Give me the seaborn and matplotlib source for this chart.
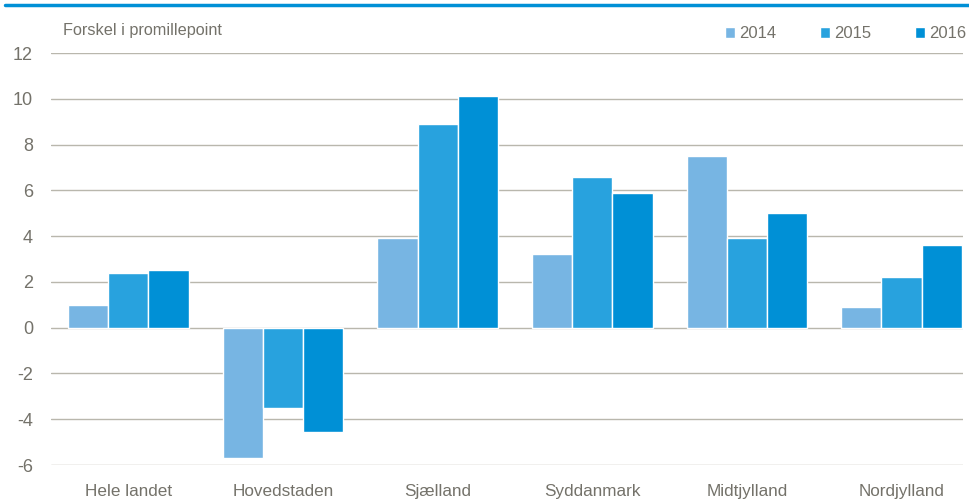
import matplotlib
matplotlib.use("Agg")
import matplotlib.pyplot as plt
from matplotlib.lines import Line2D
import seaborn as sns
import pandas as pd

regions = ["Hele landet", "Hovedstaden", "Sjælland", "Syddanmark", "Midtjylland", "Nordjylland"]
years = ["2014", "2015", "2016"]
v2014 = [1.0, -5.7, 3.9, 3.2, 7.5, 0.9]
v2015 = [2.4, -3.5, 8.9, 6.6, 3.9, 2.2]
v2016 = [2.5, -4.55, 10.1, 5.9, 5.0, 3.6]
yticks = [-6, -4, -2, 0, 2, 4, 6, 8, 10, 12]

colors = ["#77b5e3", "#28a2de", "#0090d6"]
text_col = "#74726a"
grid_col = "#b9b7ad"

df = pd.DataFrame({
    "region": regions * 3,
    "year": [y for y in years for _ in regions],
    "value": v2014 + v2015 + v2016,
})

sns.set_style("white")
plt.rcParams["font.family"] = ["Liberation Sans", "DejaVu Sans"]

fig = plt.figure(figsize=(9.69, 5.01), dpi=100)
ax = fig.add_axes([51 / 969, 36 / 501, (963 - 51) / 969, (465 - 53) / 501])

sns.barplot(data=df, x="region", y="value", hue="year", palette=colors,
            width=0.78, edgecolor="white", linewidth=1, saturation=1, ax=ax)

ax.set_ylim(-6, 12)
ax.set_xlim(-0.5, 5.397)
ax.set_yticks(yticks)
ax.set_yticklabels([str(t) for t in yticks])
ax.set_xlabel("")
ax.set_ylabel("")
ax.set_axisbelow(True)
ax.yaxis.grid(True, color=grid_col, linewidth=1)
ax.xaxis.grid(False)
for s in ax.spines.values():
    s.set_visible(False)
ax.tick_params(axis="y", length=0, pad=13, labelsize=13, labelcolor=text_col)
ax.tick_params(axis="x", length=0, pad=14, labelsize=12.3, labelcolor=text_col)

ax.text(63 / 969, 1 - 30 / 501, "Forskel i promillepoint", transform=fig.transFigure,
        fontsize=11.7, color=text_col, va="center", ha="left")

leg = ax.legend(loc="center right", bbox_to_anchor=(966 / 969, 1 - 34 / 501),
                bbox_transform=fig.transFigure, ncol=3, frameon=False,
                fontsize=12, handlelength=0.6, handleheight=0.6, handletextpad=0.25,
                columnspacing=2.6, labelcolor=text_col, borderpad=0, borderaxespad=0)

fig.add_artist(Line2D([5 / 969, 1], [1 - 5 / 501, 1 - 5 / 501],
                      transform=fig.transFigure, color="#0090d6", linewidth=2.5))

fig.savefig("out.png", dpi=100)
